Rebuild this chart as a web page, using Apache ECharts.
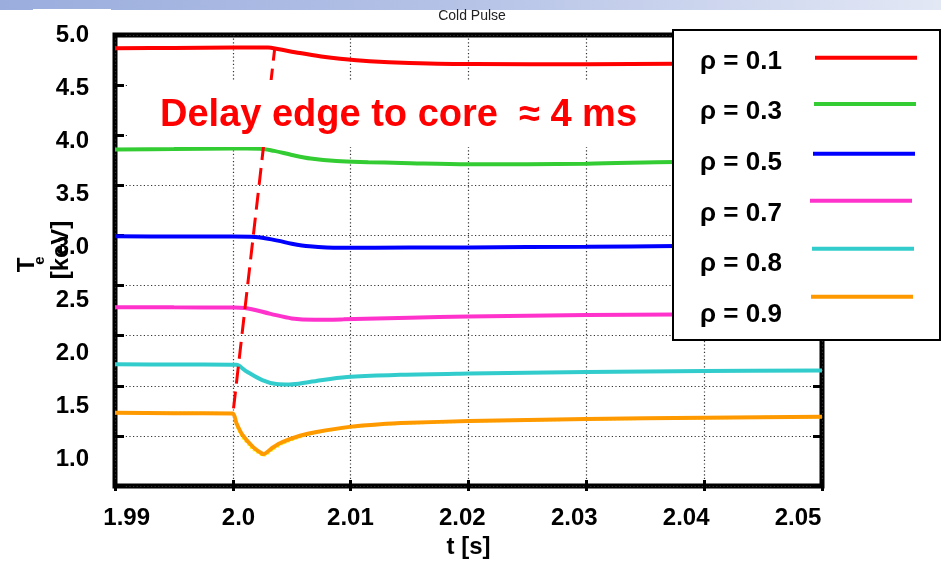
<!DOCTYPE html>
<html><head><meta charset="utf-8">
<script src="https://cdn.jsdelivr.net/npm/echarts@6/dist/echarts.min.js"></script>
<style>html,body{margin:0;padding:0;background:#fff}#c{width:941px;height:564px}</style>
</head><body><div id="c"></div>
<script>
// ---- data ----
const titleText = 'Cold Pulse';
const annotationText = 'Delay edge to core  \u2248 4 ms';
const seriesNames = ['\u03c1 = 0.1', '\u03c1 = 0.3', '\u03c1 = 0.5', '\u03c1 = 0.7', '\u03c1 = 0.8', '\u03c1 = 0.9'];
const rho01 = [[1.99,4.875],[1.995,4.878],[2.0,4.882],[2.003,4.882],[2.0038,4.868],[2.0057,4.83],[2.0075,4.798],[2.0091,4.776],[2.0116,4.753],[2.015,4.737],[2.0205,4.726],[2.03,4.725],[2.0376,4.73],[2.05,4.735]];
const rho03 = [[1.99,3.921],[1.995,3.925],[2.0,3.93],[2.0023,3.929],[2.0035,3.908],[2.005,3.87],[2.0066,3.836],[2.0088,3.812],[2.0115,3.802],[2.0143,3.795],[2.02,3.782],[2.03,3.787],[2.0376,3.804],[2.05,3.81]];
const rho05 = [[1.99,3.105],[1.995,3.102],[2.0,3.102],[2.0019,3.098],[2.0038,3.063],[2.005,3.034],[2.0065,3.010],[2.0091,2.995],[2.015,2.997],[2.02,2.999],[2.03,3.005],[2.0376,3.011],[2.05,3.013]];
const rho07 = [[1.99,2.436],[1.995,2.434],[2.0,2.432],[2.001,2.428],[2.0032,2.373],[2.005,2.330],[2.0069,2.317],[2.0094,2.321],[2.015,2.336],[2.02,2.348],[2.03,2.361],[2.0376,2.367],[2.05,2.372]];
const rho08 = [[1.99,1.897],[1.995,1.895],[2.0,1.894],[2.0003,1.893],[2.0011,1.835],[2.0025,1.748],[2.0037,1.711],[2.0048,1.707],[2.0065,1.731],[2.0097,1.778],[2.0142,1.798],[2.02,1.810],[2.03,1.825],[2.04,1.835],[2.05,1.839]];
const rho09 = [[1.99,1.442],[1.995,1.437],[2.0,1.435],[2.0003,1.345],[2.0008,1.235],[2.0017,1.12],[2.0024,1.062],[2.0026,1.051],[2.0034,1.114],[2.0042,1.164],[2.0057,1.224],[2.0071,1.260],[2.0099,1.308],[2.0125,1.333],[2.015,1.346],[2.02,1.363],[2.03,1.382],[2.04,1.395],[2.05,1.404]];
const rho09fit = [[1.99,1.44],[2.0,1.432],[2.0003,1.33],[2.0008,1.215],[2.0017,1.098],[2.0024,1.047],[2.0026,1.04],[2.0034,1.097],[2.0042,1.15],[2.0057,1.215],[2.0071,1.255],[2.0099,1.305],[2.0125,1.331],[2.015,1.344],[2.02,1.361],[2.03,1.38],[2.04,1.393],[2.05,1.402]];
const delayLine = [[2.00006,1.482],[2.00354,4.859]];
const xTickValues = [1.99, 2.00, 2.01, 2.02, 2.03, 2.04, 2.05];
const xTickLabels = ['1.99', '2.0', '2.01', '2.02', '2.03', '2.04', '2.05'];
const yTickValues = [1.0, 1.5, 2.0, 2.5, 3.0, 3.5, 4.0, 4.5, 5.0];
const yTickLabels = ['1.0', '1.5', '2.0', '2.5', '3.0', '3.5', '4.0', '4.5', '5.0'];

// ---- styles ----
const colors = ['#ff0000', '#33cc33', '#0000ff', '#ff33cc', '#33cccc', '#ff9900'];
const FONT = "'Liberation Sans', Arial, Helvetica, sans-serif";
const allData = [rho01, rho03, rho05, rho07, rho08, rho09];

function lookup(vals, labels) {
  return function (v) {
    for (let i = 0; i < vals.length; i++) if (Math.abs(vals[i] - v) < 1e-7) return labels[i];
    return '';
  };
}
const dotted = { color: '#333', width: 1.2, type: [1.2, 2.4] };

const series = [];
series.push({ type: 'line', name: 'fit', data: rho09fit, xAxisIndex: 0, yAxisIndex: 2, showSymbol: false, smooth: 0.2,
  lineStyle: { color: '#ffff00', width: 3, type: [2, 2] }, z: 2, silent: true });
allData.forEach((d, i) => {
  series.push({ type: 'line', name: seriesNames[i], data: d, xAxisIndex: 0, yAxisIndex: 2, showSymbol: false,
    smooth: i === 5 ? 0.2 : 0.35, lineStyle: { color: colors[i], width: 4 }, itemStyle: { color: colors[i] }, z: 3 });
});
series.push({ type: 'line', name: 'delay', data: delayLine, xAxisIndex: 0, yAxisIndex: 2, showSymbol: false,
  lineStyle: { color: '#ff0000', width: 3, type: [17, 8] }, z: 4, silent: true });

// legend drawn as graphic
const legendTextY = [60, 110.7, 161.7, 212, 262.3, 313.7];
const legendLineY = [57.7, 104, 153.7, 200.7, 248.7, 296.7];
const legendLineX = [815, 814, 813, 810, 812, 811];
const graphics = [
  { type: 'rect', shape: { x: 0, y: 0, width: 941, height: 10 }, z: 1,
    style: { fill: { type: 'linear', x: 0, y: 0, x2: 1, y2: 0, colorStops: [{ offset: 0, color: '#9aaddd' }, { offset: 0.5, color: '#b6c3e7' }, { offset: 1, color: '#e3e8f5' }] } } },
  { type: 'rect', shape: { x: 33, y: 9, width: 78, height: 14 }, z: 1, style: { fill: '#fff' } },
  { type: 'rect', shape: { x: 127, y: 80, width: 545, height: 67 }, z: 50, style: { fill: '#fff' } },
  { type: 'text', x: 160, y: 116, z: 51, style: { text: annotationText, fill: '#ff0000', font: 'bold 38px ' + FONT, textAlign: 'left', textVerticalAlign: 'middle', align: 'left', verticalAlign: 'middle' } },
  { type: 'rect', shape: { x: 673, y: 30, width: 267, height: 310 }, z: 60, style: { fill: '#fff', stroke: '#000', lineWidth: 2 } },
  { type: 'text', x: 27, y: 265, rotation: Math.PI / 2, z: 61, style: { text: 'T', fill: '#000', font: 'bold 24px ' + FONT, textAlign: 'center', textVerticalAlign: 'middle', align: 'center', verticalAlign: 'middle' } },
  { type: 'text', x: 40, y: 260.5, rotation: Math.PI / 2, z: 61, style: { text: 'e', fill: '#000', font: 'bold 15px ' + FONT, textAlign: 'center', textVerticalAlign: 'middle', align: 'center', verticalAlign: 'middle' } },
  { type: 'text', x: 61, y: 250, rotation: Math.PI / 2, z: 61, style: { text: '[keV]', fill: '#000', font: 'bold 24px ' + FONT, textAlign: 'center', textVerticalAlign: 'middle', align: 'center', verticalAlign: 'middle' } }
];
seriesNames.forEach((n, i) => {
  graphics.push({ type: 'text', x: 700, y: legendTextY[i] + 1.5, z: 62, style: { text: n, fill: '#000', font: 'bold 26px ' + FONT, textAlign: 'left', textVerticalAlign: 'middle', align: 'left', verticalAlign: 'middle' } });
  graphics.push({ type: 'line', z: 62, shape: { x1: legendLineX[i], y1: legendLineY[i], x2: legendLineX[i] + 102, y2: legendLineY[i] }, style: { stroke: colors[i], lineWidth: 4 } });
});

const chart = echarts.init(document.getElementById('c'), null, { renderer: 'canvas' });
chart.setOption({
  animation: false,
  backgroundColor: '#fff',
  title: { text: titleText, left: 467, top: 4, textAlign: 'center', textStyle: { fontSize: 14, fontWeight: 'normal', color: '#222', fontFamily: FONT } },
  grid: { left: 115, right: 119, top: 35, bottom: 76, show: true, borderColor: '#000', borderWidth: 5, backgroundColor: 'transparent' },
  xAxis: [
    { type: 'value', min: 1.99, max: 2.05, interval: 0.01, position: 'bottom',
      axisLine: { show: false }, axisTick: { show: true, inside: true, length: 6, lineStyle: { color: '#000', width: 3 } },
      axisLabel: { show: false }, splitLine: { show: true, lineStyle: dotted } },
    { type: 'value', min: 1.99, max: 2.05, interval: 0.01, position: 'top',
      axisLine: { show: false }, axisTick: { show: true, inside: true, length: 5, lineStyle: { color: '#000', width: 3 } },
      axisLabel: { show: false }, splitLine: { show: false } },
    { type: 'value', min: 1.98896, max: 2.05214, position: 'bottom',
      axisLine: { show: false }, axisTick: { show: false }, splitLine: { show: false },
      axisLabel: { show: true, customValues: xTickValues, formatter: lookup(xTickValues, xTickLabels), margin: 20, fontSize: 24, fontWeight: 'bold', color: '#000', fontFamily: FONT },
      name: 't [s]', nameLocation: 'middle', nameGap: 42, nameTextStyle: { fontSize: 24, fontWeight: 'bold', color: '#000', fontFamily: FONT } }
  ],
  yAxis: [
    { type: 'value', min: 0, max: 9, interval: 1, position: 'left',
      axisLine: { show: false }, axisTick: { show: true, inside: true, length: 9, lineStyle: { color: '#000', width: 3 } },
      axisLabel: { show: false }, splitLine: { show: true, lineStyle: dotted } },
    { type: 'value', min: 0, max: 9, interval: 1, position: 'right',
      axisLine: { show: false }, axisTick: { show: true, inside: true, length: 9, lineStyle: { color: '#000', width: 3 } },
      axisLabel: { show: false }, splitLine: { show: false } },
    { type: 'value', min: 0.75, max: 5.0, position: 'left',
      axisLine: { show: false }, axisTick: { show: false }, splitLine: { show: false },
      axisLabel: { show: true, customValues: yTickValues, formatter: lookup(yTickValues, yTickLabels), margin: 26, fontSize: 24, fontWeight: 'bold', color: '#000', fontFamily: FONT } }
  ],
  series: series,
  graphic: graphics
});
</script></body></html>
